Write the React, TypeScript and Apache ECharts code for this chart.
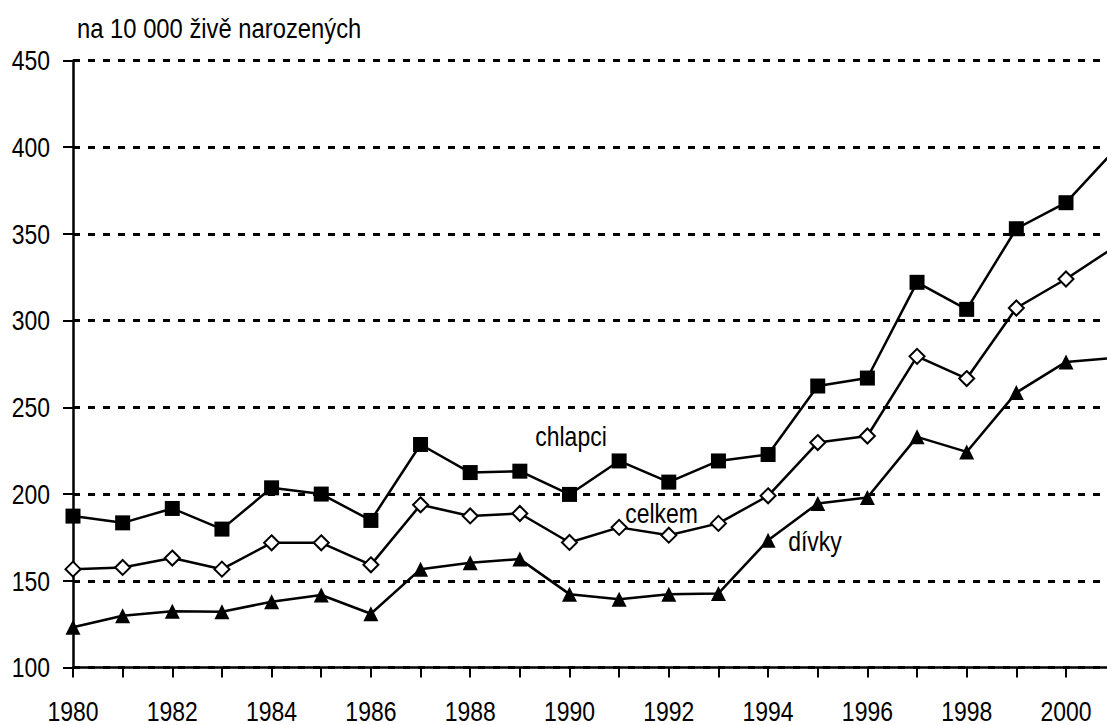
import React, { useEffect, useRef } from "react";
import * as echarts from "echarts";

const years = [1980, 1981, 1982, 1983, 1984, 1985, 1986, 1987, 1988, 1989, 1990, 1991, 1992, 1993, 1994, 1995, 1996, 1997, 1998, 1999, 2000, 2001];
const chlapci = [187.3, 183.4, 191.7, 179.8, 203.6, 200.0, 184.8, 228.6, 212.4, 213.2, 199.8, 219.1, 206.9, 219.1, 222.8, 262.3, 266.9, 322.1, 306.5, 353.0, 368.0, 398.9];
const celkem = [156.7, 157.7, 163.1, 156.7, 171.9, 171.9, 159.2, 193.8, 187.4, 188.8, 172.1, 180.8, 176.3, 183.1, 199.0, 229.7, 233.5, 279.4, 266.6, 307.3, 324.0, 342.9];
const divky = [123.2, 129.8, 132.4, 132.2, 137.9, 141.8, 131.0, 156.7, 160.4, 162.5, 142.3, 139.3, 142.3, 142.7, 173.4, 194.6, 198.0, 233.0, 224.3, 258.5, 276.2, 278.6];

const xTickYears = [1980, 1981, 1982, 1983, 1984, 1985, 1986, 1987, 1988, 1989, 1990, 1991, 1992, 1993, 1994, 1995, 1996, 1997, 1998, 1999, 2000];
const xLabelYears = [1980, 1982, 1984, 1986, 1988, 1990, 1992, 1994, 1996, 1998, 2000];
const yTicks = [100, 150, 200, 250, 300, 350, 400, 450];

const titleText = "na 10 000 živě narozených";
const seriesLabels = ["chlapci", "celkem", "dívky"];

const X_MIN = 1980;
const X_MAX = 2000.826;
const FONT = "28px 'Liberation Sans', Arial, sans-serif";
const NARROW = 0.82;

export default function App() {
  const ref = useRef<HTMLDivElement>(null);
  useEffect(() => {
    if (!ref.current) return;
    const chart = echarts.init(ref.current, null, { renderer: "svg" });
    const pair = (arr: number[]) => years.map((y, i) => [y, arr[i]]);
    const lineStyle = { color: "#000", width: 2.5 };
    chart.setOption({
      animation: false,
      backgroundColor: "#fff",
      grid: { left: 73, top: 60.5, right: 0, bottom: 57.5, containLabel: false },
      xAxis: {
        type: "value",
        min: X_MIN,
        max: X_MAX,
        axisLine: { show: true, lineStyle: { color: "#000", width: 2.5 } },
        axisTick: { show: true, length: 10, customValues: xTickYears, lineStyle: { color: "#000", width: 2 } },
        splitLine: { show: false },
        axisLabel: { show: false },
      },
      yAxis: {
        type: "value",
        min: 100,
        max: 450,
        interval: 50,
        axisLine: { show: true, lineStyle: { color: "#000", width: 2.5 } },
        axisTick: { show: true, length: 10, lineStyle: { color: "#000", width: 2 } },
        splitLine: { show: true, lineStyle: { color: "#000", width: 3, type: [7, 8] } },
        axisLabel: { show: false },
      },
      series: [
        {
          name: seriesLabels[0],
          type: "line",
          data: pair(chlapci),
          symbol: "rect",
          symbolSize: 15,
          itemStyle: { color: "#000" },
          lineStyle,
          clip: true,
          z: 3,
        },
        {
          name: seriesLabels[1],
          type: "line",
          data: pair(celkem),
          symbol: "diamond",
          symbolSize: 15,
          itemStyle: { color: "#fff", borderColor: "#000", borderWidth: 2 },
          lineStyle,
          clip: true,
          z: 3,
        },
        {
          name: seriesLabels[2],
          type: "line",
          data: pair(divky),
          symbol: "triangle",
          symbolSize: 15,
          itemStyle: { color: "#000" },
          lineStyle,
          clip: true,
          z: 3,
        },
      ],
    });

    const px = (x: number, y: number) => chart.convertToPixel({ gridIndex: 0 }, [x, y]) as number[];
    const txt = (x: number, y: number, text: string, align: string, scale: number) => ({
      type: "text",
      x,
      y,
      scaleX: scale,
      style: { text, font: FONT, fill: "#000", textAlign: align, textVerticalAlign: "middle" },
    });
    const graphics: any[] = [];
    yTicks.forEach((v) => {
      const p = px(X_MIN, v);
      graphics.push(txt(p[0] - 23, p[1], String(v), "right", NARROW));
    });
    xLabelYears.forEach((yr) => {
      const p = px(yr, 100);
      graphics.push(txt(p[0], p[1] + 43.5, String(yr), "center", NARROW));
    });
    graphics.push(txt(77, 28, titleText, "left", 0.85));
    graphics.push(txt(571, 436, seriesLabels[0], "center", NARROW));
    graphics.push(txt(661.5, 513, seriesLabels[1], "center", NARROW));
    graphics.push(txt(815, 541, seriesLabels[2], "center", NARROW));
    chart.setOption({ graphic: graphics });

    return () => chart.dispose();
  }, []);
  return (
    <div
      ref={ref}
      style={{ position: "fixed", left: 0, top: 0, width: 1107, height: 725, overflow: "hidden" }}
    />
  );
}
